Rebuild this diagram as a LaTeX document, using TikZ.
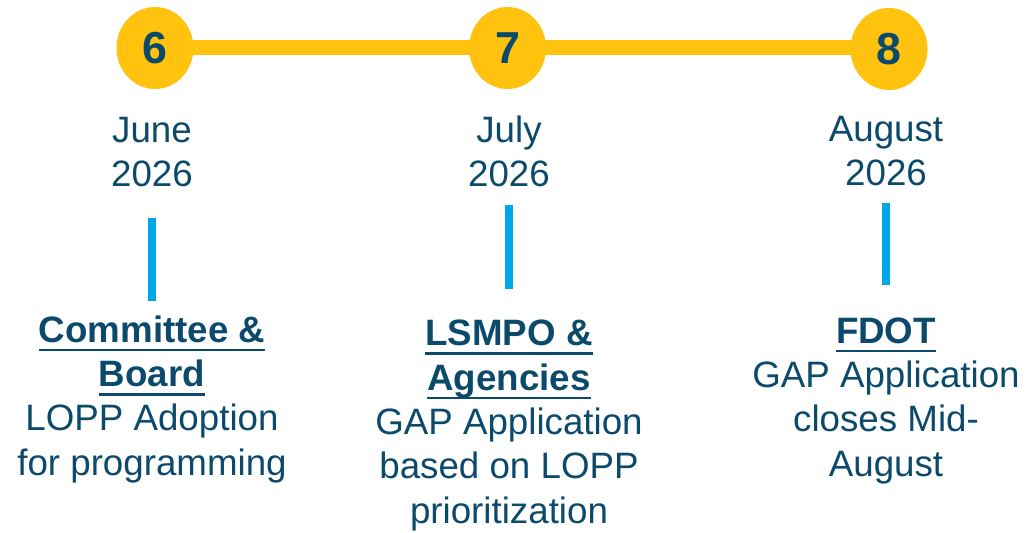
\documentclass[tikz,border=0pt]{standalone}
\usepackage{fontspec}
\setmainfont{Liberation Sans}
\usepackage{xcolor}
\usetikzlibrary{positioning,calc}
\usetikzlibrary{shapes}
\definecolor{navy}{HTML}{0B4A6B}
\definecolor{gold}{HTML}{FFC20E}
\definecolor{sky}{HTML}{00A8E8}
\newcommand{\hdul}[1]{\setbox0\hbox{\bfseries #1}\rlap{\rule[-5.3pt]{\wd0}{1.6pt}}\box0}
\tikzstyle{dot} = [ellipse,fill=gold,inner sep=0pt,minimum width=1.54cm,minimum height=1.64cm,text=navy,font=\fontsize{25.5}{30}\selectfont\bfseries]
\tikzstyle{track} = [draw=gold,line width=15*0.02cm,shorten <=-4pt,shorten >=-4pt]
\tikzstyle{bar} = [draw=sky,line width=8*0.02cm]
\tikzstyle{lbl} = [align=center,inner sep=0pt,text=navy,font=\fontsize{20.9}{25.2}\selectfont,anchor=base]

\begin{document}
\begin{tikzpicture}[x=0.02cm,y=-0.02cm]
        \useasboundingbox (0,0) rectangle (1026,533);
        % month markers
        \node[dot] (c6) at (155,48) {6};
        \node[dot] (c7) at (507.5,48) {7};
        \node[dot] (c8) at (889,49) {8};
        \draw[track] (c6.east) -- (c7.west);
        \draw[track] (c7.east) -- (c8.west |- c7.east);
        % dates (base = last line)
        \node[lbl] (d6) at (152,187) {June\\2026};
        \node[lbl] (d7) at (509,187) {July\\2026};
        \node[lbl] (d8) at (886,186) {August\\2026};
        % ticks
        \coordinate (b6t) at (152,218); \coordinate (b6b) at (152,301);
        \coordinate (b7t) at (509,205); \coordinate (b7b) at (509,289);
        \coordinate (b8t) at (886,203); \coordinate (b8b) at (886,285);
        \draw[bar] (b6t) -- (b6b);
        \draw[bar] (b7t) -- (b7b);
        \draw[bar] (b8t) -- (b8b);
        % who does what
        \node[lbl] (t6) at (152,475) {\hdul{Committee \&}\\\hdul{Board}\\LOPP Adoption\\for programming};
        \node[lbl] (t7) at (509,523) {\hdul{LSMPO \&}\\\hdul{Agencies}\\GAP Application\\based on LOPP\\prioritization};
        \node[lbl] (t8) at (886,476) {\hdul{FDOT}\\GAP Application\\closes Mid-\\August};
\end{tikzpicture}
\end{document}
